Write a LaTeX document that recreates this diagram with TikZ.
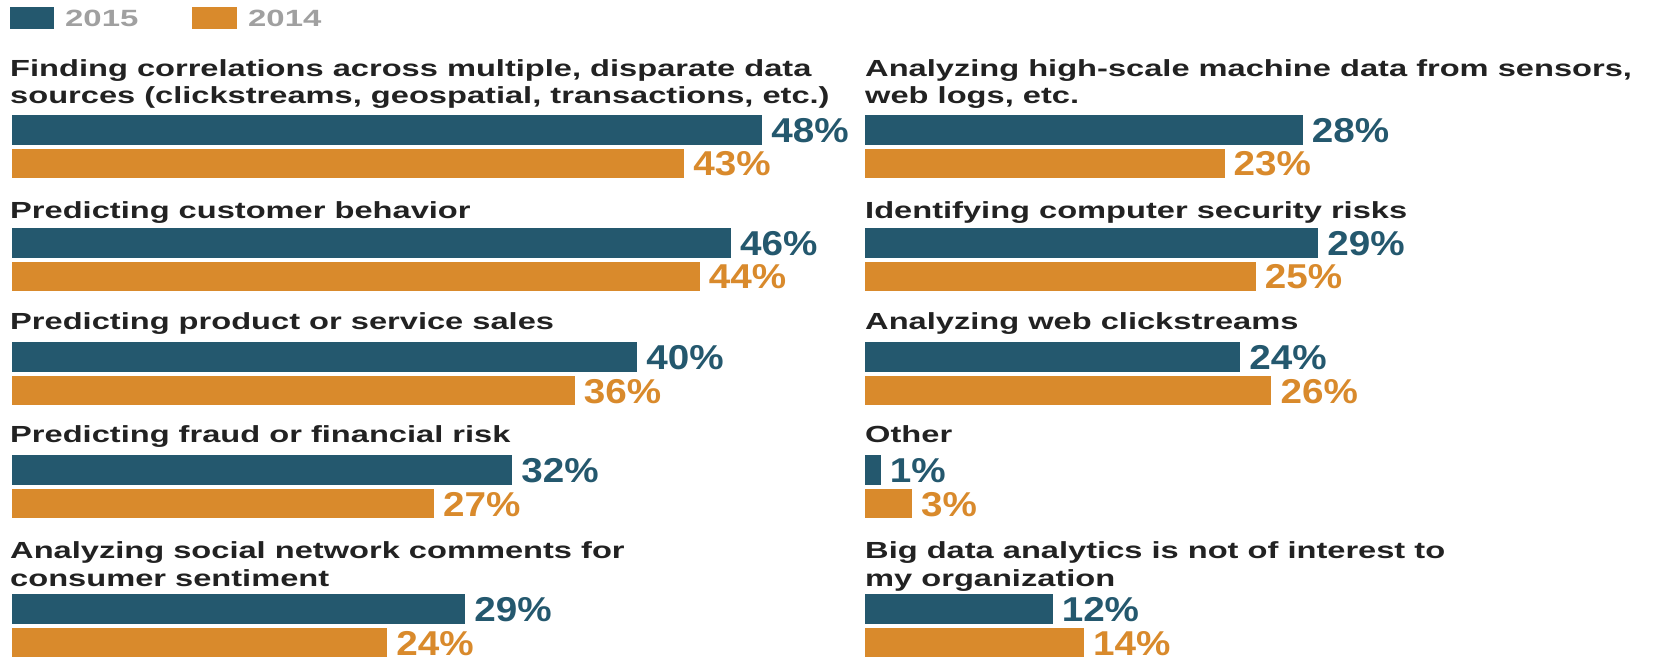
\documentclass[tikz,border=0pt]{standalone}
\usepackage{fontspec}
\setmainfont{Liberation Sans}[FakeStretch=1.4]
\newfontfamily\pctfont{Liberation Sans}[FakeStretch=1.12]
\definecolor{cblue}{RGB}{36,88,110}
\definecolor{corange}{RGB}{217,138,44}
\definecolor{ctext}{RGB}{34,34,34}
\definecolor{cgrey}{RGB}{160,160,160}
\newcommand\pxper{15.63}
\newcommand\bargroup[5]{%
  % #1 x origin, #2 blue top, #3 blue pct, #4 orange pct, #5 name
  \fill[cblue] (#1,#2) rectangle ++(\pxper*#3,30);
  \fill[corange] (#1,#2+34) rectangle ++(\pxper*#4,29);
  \node[pct,text=cblue] (#5b) at (#1+\pxper*#3+9,#2+27.5) {#3\%};
  \node[pct,text=corange] (#5o) at (#1+\pxper*#4+9,#2+61) {#4\%};
}
\begin{document}
\begin{tikzpicture}[x=1pt,y=-1pt,
  head/.style={anchor=base west,inner sep=0pt,text=ctext,font=\fontsize{23.3}{28}\selectfont\bfseries},
  pct/.style={anchor=base west,inner sep=0pt,font=\pctfont\fontsize{34.5}{34.5}\selectfont\bfseries},
  legtext/.style={anchor=base west,inner sep=0pt,text=cgrey,font=\fontsize{23.5}{23.5}\selectfont\bfseries}]
\useasboundingbox (0,0) rectangle (1668,660);
\fill[white] (0,0) rectangle (1668,660);
% legend
\fill[cblue] (10,7) rectangle (54,29);
\node[legtext] (l15) at (65,27) {2015};
\fill[corange] (192,7) rectangle (237,29);
\node[legtext] (l14) at (248,27) {2014};
% left column
\node[head] (h1a) at (10,77) {Finding correlations across multiple, disparate data};
\node[head] (h1b) at (10,104) {sources (clickstreams, geospatial, transactions, etc.)};
\bargroup{12}{115}{48}{43}{g1}
\node[head] (h2) at (10,219) {Predicting customer behavior};
\bargroup{12}{228}{46}{44}{g2}
\node[head] (h3) at (10,330) {Predicting product or service sales};
\bargroup{12}{342}{40}{36}{g3}
\node[head] (h4) at (10,442) {Predicting fraud or financial risk};
\bargroup{12}{455}{32}{27}{g4}
\node[head] (h5a) at (10,558) {Analyzing social network comments for};
\node[head] (h5b) at (10,586) {consumer sentiment};
\bargroup{12}{594}{29}{24}{g5}
% right column
\node[head] (r1a) at (865,77) {Analyzing high-scale machine data from sensors,};
\node[head] (r1b) at (865,104) {web logs, etc.};
\bargroup{865}{115}{28}{23}{r1}
\node[head] (r2) at (865,219) {Identifying computer security risks};
\bargroup{865}{228}{29}{25}{r2}
\node[head] (r3) at (865,330) {Analyzing web clickstreams};
\bargroup{865}{342}{24}{26}{r3}
\node[head] (r4) at (865,442) {Other};
\bargroup{865}{455}{1}{3}{r4}
\node[head] (r5a) at (865,558) {Big data analytics is not of interest to};
\node[head] (r5b) at (865,586) {my organization};
\bargroup{865}{594}{12}{14}{r5}
\end{tikzpicture}
\end{document}
